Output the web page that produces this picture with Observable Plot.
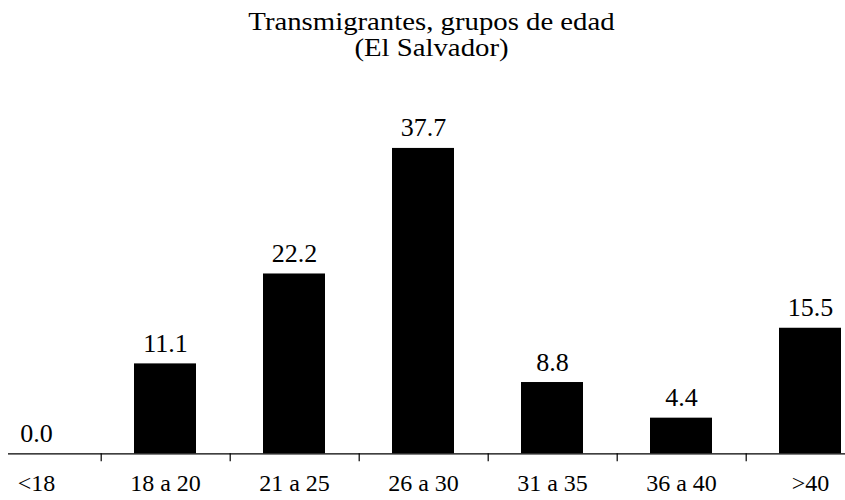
<!DOCTYPE html>
<html>
<head>
<meta charset="utf-8">
<script src="https://cdn.jsdelivr.net/npm/d3@7"></script>
<script src="https://cdn.jsdelivr.net/npm/@observablehq/plot@0.6"></script>
<style>
  html, body { margin: 0; padding: 0; background: #fff; }
  #wrap { width: 845px; height: 500px; position: relative; overflow: hidden; }
  #title { position: absolute; left: 8.5px; top: 9px; width: 845px;
           text-align: center; font-family: "Liberation Serif", "Times New Roman", serif; font-size: 25px;
           line-height: 26px; color: #000; transform: scaleX(1.15); transform-origin: 50% 50%; }
  #chart { position: absolute; left: 0; top: 100px; }
</style>
</head>
<body>
<div id="wrap">
  <div id="title">Transmigrantes, grupos de edad<br>(El Salvador)</div>
  <div id="chart"></div>
</div>
<script>
const categories = ["<18", "18 a 20", "21 a 25", "26 a 30", "31 a 35", "36 a 40", ">40"];
const values = [0.0, 11.1, 22.2, 37.7, 8.8, 4.4, 15.5];

const data = categories.map((c, i) => ({category: c, value: values[i]}));

const W = 845, H = 400;
const xRange = [-30, 875.8];
const step = (xRange[1] - xRange[0]) / categories.length;
const font = "'Liberation Serif', 'Times New Roman', serif";

const chart = Plot.plot({
  width: W,
  height: H,
  marginTop: 29.3,
  marginBottom: 46.7,
  marginLeft: 8,
  marginRight: 0,
  style: {fontFamily: font, background: "#fff", color: "#000"},
  x: {domain: categories, range: xRange, paddingInner: 0.52, paddingOuter: 0.26, label: null},
  y: {domain: [0, 40], axis: null},
  marks: [
    Plot.barY(data, {x: "category", y: "value", fill: "#000"}),
    Plot.ruleY([0], {stroke: "#000", strokeWidth: 1.2}),
    Plot.ruleX(categories.slice(0, -1), {x: d => d, y1: 0, y2: 0, dx: step / 2, insetBottom: -8, stroke: "#000", strokeWidth: 1.2}),
    Plot.text(data, {x: "category", y: "value", text: d => d.value.toFixed(1), dy: -12, lineAnchor: "bottom", fontSize: 26, fill: "#000"}),
    Plot.axisX({tickSize: 0, tickPadding: 20, fontSize: 24, label: null, fill: "#000"})
  ]
});
document.getElementById("chart").appendChild(chart);
</script>
</body>
</html>
